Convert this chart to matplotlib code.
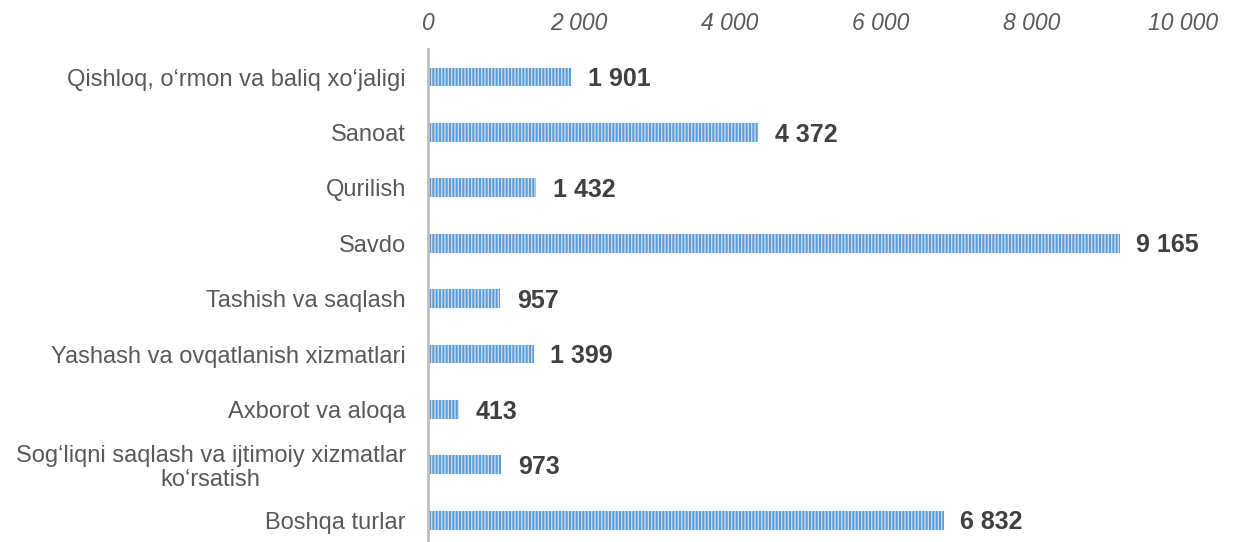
import matplotlib.pyplot as plt
from matplotlib.ticker import FuncFormatter

plt.rcParams['font.family'] = ['Liberation Sans', 'DejaVu Sans']
plt.rcParams['hatch.linewidth'] = 1.0
plt.rcParams['hatch.color'] = '#C9DDF2'

categories = [
    "Qishloq, o\u2018rmon va baliq xo\u2018jaligi",
    "Sanoat",
    "Qurilish",
    "Savdo",
    "Tashish va saqlash",
    "Yashash va ovqatlanish xizmatlari",
    "Axborot va aloqa",
    "Sog\u2018liqni saqlash va ijtimoiy xizmatlar\nko\u2018rsatish",
    "Boshqa turlar",
]
values = [1901, 4372, 1432, 9165, 957, 1399, 413, 973, 6832]
xticks = [0, 2000, 4000, 6000, 8000, 10000]


def fmt(v):
    return f"{int(v):,}".replace(",", " ")


fig = plt.figure(figsize=(12.37, 5.42), dpi=100)
ax = fig.add_axes([0.346, -0.011, 0.610, 0.92])

y = list(range(len(categories)))
ax.barh(y, values, height=0.34, color='#5B9BD5', hatch='|||||',
        edgecolor='#C9DDF2', linewidth=0)

for yi, v in zip(y, values):
    ax.text(v + 220, yi + 0.04, fmt(v), va='center', ha='left',
            fontsize=18, fontweight='bold', color='#404040')

ax.set_ylim(len(categories) - 0.5, -0.5)
ax.set_xlim(0, 10000)
ax.set_yticks(y)
ax.set_yticklabels(categories, fontsize=17, color='#595959',
                   multialignment='center', linespacing=1.1)
ax.set_xticks(xticks)
ax.xaxis.set_major_formatter(FuncFormatter(lambda v, p: fmt(v)))
ax.xaxis.tick_top()
for lab in ax.get_xticklabels():
    lab.set_fontstyle('italic')
    lab.set_color('#595959')
    lab.set_fontsize(16.5)
ax.tick_params(axis='both', length=0)
ax.tick_params(axis='y', pad=16)
ax.tick_params(axis='x', pad=10)

for s in ['top', 'right', 'bottom']:
    ax.spines[s].set_visible(False)
ax.spines['left'].set_color('#BFBFBF')
ax.spines['left'].set_linewidth(2)

fig.savefig('out.png', dpi=100)
